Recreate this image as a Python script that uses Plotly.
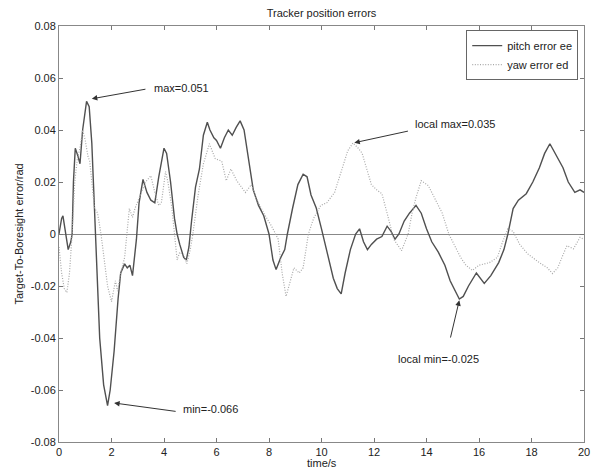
import plotly.graph_objects as go

# ---- data ----
t_pitch = [0, 0.1, 0.15, 0.25, 0.35, 0.45, 0.5, 0.55, 0.62, 0.72, 0.8, 0.9, 1.05, 1.15, 1.25, 1.35,
           1.42, 1.55, 1.7, 1.85, 1.95, 2.1, 2.25, 2.35, 2.5, 2.6, 2.7, 2.8, 2.95, 3.05, 3.2, 3.35,
           3.5, 3.65, 3.8, 4.0, 4.1, 4.25, 4.4, 4.5, 4.6, 4.75, 4.85, 4.95, 5.05, 5.2, 5.35, 5.5,
           5.65, 5.75, 5.9, 6.0, 6.15, 6.3, 6.45, 6.6, 6.75, 6.9, 7.05, 7.2, 7.4, 7.6, 7.8, 8.0,
           8.15, 8.27, 8.45, 8.6, 8.7, 8.9, 9.1, 9.3, 9.45, 9.6, 9.8, 10.0, 10.2, 10.45, 10.6, 10.75,
           10.9, 11.1, 11.3, 11.45, 11.6, 11.75, 11.9, 12.1, 12.3, 12.5, 12.65, 12.8, 12.95, 13.15,
           13.35, 13.6, 13.8, 14.0, 14.2, 14.45, 14.7, 14.9, 15.1, 15.25, 15.4, 15.6, 15.9, 16.05,
           16.2, 16.45, 16.75, 16.95, 17.1, 17.3, 17.5, 17.8, 18.05, 18.3, 18.5, 18.7, 18.85, 19.0,
           19.2, 19.4, 19.65, 19.85, 20.0]
pitch_error = [0.0, 0.006, 0.007, 0.0, -0.006, -0.003, 0.0, 0.02, 0.033, 0.03, 0.027, 0.04, 0.051,
               0.049, 0.035, 0.01, -0.01, -0.04, -0.058, -0.066, -0.06, -0.045, -0.025, -0.015,
               -0.0115, -0.013, -0.012, -0.016, -0.002, 0.012, 0.021, 0.016, 0.013, 0.012, 0.022,
               0.033, 0.031, 0.02, 0.006, 0.0, -0.004, -0.009, -0.01, -0.005, 0.005, 0.018, 0.025,
               0.038, 0.043, 0.04, 0.037, 0.036, 0.033, 0.037, 0.04, 0.038, 0.041, 0.0435, 0.04,
               0.03, 0.017, 0.011, 0.007, 0.0, -0.01, -0.0137, -0.009, -0.006, 0.0, 0.01, 0.019,
               0.023, 0.022, 0.015, 0.01, 0.002, -0.006, -0.017, -0.021, -0.023, -0.015, -0.006,
               0.0, 0.002, -0.003, -0.006, -0.004, -0.002, -0.001, 0.003, 0.001, -0.002, 0.0, 0.005,
               0.008, 0.011, 0.008, 0.002, -0.003, -0.007, -0.012, -0.018, -0.022, -0.025, -0.024,
               -0.02, -0.015, -0.017, -0.019, -0.016, -0.011, -0.006, 0.0, 0.0098, 0.013, 0.0155,
               0.02, 0.0255, 0.031, 0.0347, 0.032, 0.029, 0.0255, 0.02, 0.016, 0.017, 0.016]

t_yaw = [0, 0.1, 0.2, 0.3, 0.4, 0.5, 0.6, 0.7, 0.8, 0.9, 1.0, 1.1, 1.17, 1.25, 1.35, 1.47, 1.6, 1.7,
         1.85, 2.0, 2.1, 2.15, 2.23, 2.35, 2.5, 2.6, 2.68, 2.8, 2.9, 3.1, 3.3, 3.5, 3.65, 3.8, 3.9,
         4.06, 4.15, 4.3, 4.4, 4.5, 4.6, 4.75, 4.87, 5.0, 5.1, 5.3, 5.5, 5.73, 5.95, 6.2, 6.37, 6.55,
         6.77, 6.95, 7.1, 7.33, 7.5, 7.8, 8.1, 8.35, 8.5, 8.65, 8.8, 8.95, 9.15, 9.3, 9.5, 9.7, 9.97,
         10.2, 10.5, 10.8, 11.0, 11.2, 11.4, 11.55, 11.75, 11.9, 12.1, 12.3, 12.5, 12.6, 12.75, 13.05,
         13.3, 13.45, 13.6, 13.8, 14.07, 14.3, 14.6, 14.85, 15.1, 15.3, 15.5, 15.75, 16.0, 16.4, 16.7,
         16.9, 17.1, 17.3, 17.55, 17.85, 18.3, 18.6, 18.8, 19.0, 19.2, 19.35, 19.6, 19.85, 20.0]
yaw_error = [-0.005, -0.015, -0.021, -0.0225, -0.015, 0.0, 0.02, 0.029, 0.033, 0.04, 0.036, 0.03,
             0.028, 0.02, 0.01, 0.008, 0.0, -0.008, -0.02, -0.026, -0.021, -0.018, -0.022, -0.015,
             -0.009, 0.0, 0.0098, 0.0064, 0.01, 0.015, 0.02, 0.0224, 0.016, 0.011, 0.012, 0.024, 0.02,
             0.01, 0.0, -0.01, -0.007, -0.008, -0.0115, -0.006, 0.0, 0.015, 0.027, 0.0347, 0.029,
             0.028, 0.0205, 0.025, 0.0205, 0.018, 0.016, 0.019, 0.014, 0.008, 0.003, -0.002, -0.015,
             -0.024, -0.018, -0.013, -0.015, -0.013, 0.0, 0.006, 0.011, 0.012, 0.016, 0.026, 0.032,
             0.035, 0.033, 0.031, 0.024, 0.019, 0.017, 0.0155, 0.008, 0.004, -0.002, -0.0064, 0.0,
             0.008, 0.014, 0.0205, 0.0186, 0.014, 0.008, 0.0, -0.005, -0.009, -0.012, -0.014, -0.012,
             -0.011, -0.009, -0.003, 0.002, 0.001, -0.004, -0.0076, -0.011, -0.013, -0.0152, -0.013,
             -0.008, -0.0045, -0.0057, -0.0013, -0.002]

x_ticks = [0, 2, 4, 6, 8, 10, 12, 14, 16, 18, 20]
y_ticks = [-0.08, -0.06, -0.04, -0.02, 0, 0.02, 0.04, 0.06, 0.08]
y_tick_labels = ["-0.08", "-0.06", "-0.04", "-0.02", "0", "0.02", "0.04", "0.06", "0.08"]

# annotations: (text, text_x, text_y, tail_x, tail_y, tip_x, tip_y)
notes = [
    ("max=0.051", 4.68, 0.0562, 3.35, 0.0558, 1.25, 0.052),
    ("min=-0.066", 5.78, -0.0674, 4.5, -0.0683, 2.1, -0.065),
    ("local max=0.035", 15.1, 0.0424, 13.35, 0.0397, 11.25, 0.0351),
    ("local min=-0.025", 14.45, -0.0482, 14.9, -0.0404, 15.25, -0.0255),
]

FONT = "Liberation Sans, Arial, Helvetica, sans-serif"
TXT = "#222222"

fig = go.Figure()
fig.add_trace(go.Scatter(x=t_pitch, y=pitch_error, mode="lines", name="pitch error ee",
                         line=dict(color="#505050", width=1.4)))
fig.add_trace(go.Scatter(x=t_yaw, y=yaw_error, mode="lines", name="yaw error ed",
                         line=dict(color="#a8a8a8", width=1.2, dash="1px,1.6px")))

anns = []
for text, tx, ty, ax, ay, px, py in notes:
    anns.append(dict(x=px, y=py, ax=ax, ay=ay, xref="x", yref="y", axref="x", ayref="y",
                     text="", showarrow=True, arrowhead=2, arrowsize=1.1, arrowwidth=1,
                     arrowcolor="#333333"))
    anns.append(dict(x=tx, y=ty, xref="x", yref="y", text=text, showarrow=False,
                     font=dict(family=FONT, size=11, color=TXT)))

anns.append(dict(x=0.5, y=-0.050, xref="paper", yref="paper", text="time/s", showarrow=False,
                 font=dict(family=FONT, size=11, color=TXT), yanchor="middle"))
anns.append(dict(x=-0.077, y=0.5, xref="paper", yref="paper", text="Target-To-Boresight error/rad",
                 showarrow=False, textangle=-90, font=dict(family=FONT, size=11, color=TXT),
                 xanchor="center"))

fig.update_layout(
    width=594, height=468,
    margin=dict(l=51, r=13, t=17, b=34),
    paper_bgcolor="white", plot_bgcolor="white",
    font=dict(family=FONT, size=11, color=TXT),
    title=dict(text="Tracker position errors", x=0.5, xref="paper", xanchor="center",
               y=0.997, yanchor="top", font=dict(family=FONT, size=11, color=TXT)),
    showlegend=True,
    legend=dict(x=0.989, y=0.99, xanchor="right", yanchor="top", bgcolor="white",
                bordercolor="#666666", borderwidth=1, font=dict(family=FONT, size=11),
                tracegroupgap=0, itemwidth=30),
    annotations=anns,
)
fig.update_xaxes(range=[0, 20], tickvals=x_ticks, ticks="inside", ticklen=4, tickcolor="#777777",
                 showline=True, linecolor="#888888", linewidth=1, mirror="allticks",
                 showgrid=False, zeroline=False, tickfont=dict(family=FONT, size=11))
fig.update_yaxes(range=[-0.08, 0.08], tickvals=y_ticks, ticktext=y_tick_labels, ticks="inside",
                 ticklen=4, tickcolor="#777777", showline=True, linecolor="#888888", linewidth=1,
                 mirror="allticks", showgrid=False, zeroline=True, zerolinecolor="#888888",
                 zerolinewidth=1.3, tickfont=dict(family=FONT, size=11))

fig.write_html("out.html")
